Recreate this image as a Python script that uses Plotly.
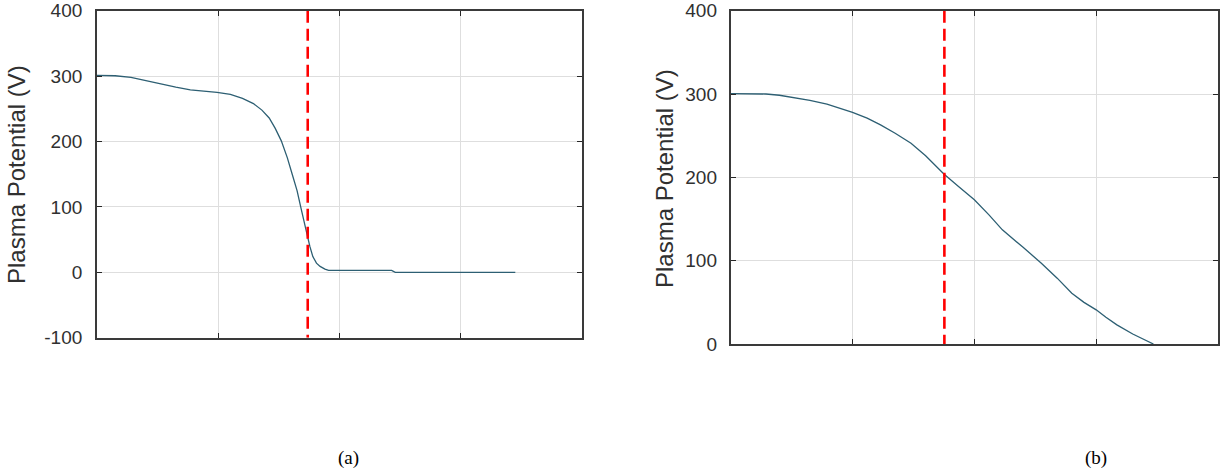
import plotly.graph_objects as go

# Panel (a) data (x in grid units, 0..4; y in volts)
xa = [0, 0.15, 0.28, 0.4, 0.51, 0.65, 0.77, 0.9, 0.99, 1.1, 1.2, 1.29, 1.36, 1.42, 1.47, 1.52, 1.57,
      1.61, 1.65, 1.68, 1.71, 1.73, 1.755, 1.78, 1.81, 1.84, 1.88, 1.91, 2.43, 2.46, 3.45]
ya = [301, 300.5, 298, 293, 288, 283, 279, 277, 275, 272, 266, 258, 248, 236, 220, 201, 175,
      150, 125, 100, 78, 60, 40, 24, 14, 9, 5, 3, 3, 0, 0]
vline_a = 1.738

# Panel (b) data
xb = [0, 0.15, 0.29, 0.4, 0.51, 0.65, 0.79, 0.9, 1.0, 1.12, 1.23, 1.35, 1.48, 1.6, 1.75, 1.87, 2.0,
      2.12, 2.23, 2.4, 2.55, 2.68, 2.8, 2.9, 3.0, 3.08, 3.17, 3.3, 3.47]
yb = [300.5, 300.5, 300, 298.5, 296, 292.5, 288, 283, 278, 271, 263, 253, 241, 226, 204, 189, 173,
      155, 137, 116, 97, 79, 61, 50, 41, 32, 23, 12, 0]
vline_b = 1.754

yticks_a = [-100, 0, 100, 200, 300, 400]
yticklabels_a = ["-100", "0", "100", "200", "300", "400"]
yticks_b = [0, 100, 200, 300, 400]
yticklabels_b = ["0", "100", "200", "300", "400"]
xticks = [0, 1, 2, 3, 4]
ytitle = "Plasma Potential (V)"
panel_labels = ["(a)", "(b)"]

W, H = 1221, 470
curve_color = "#2d5f73"

fig = go.Figure()
fig.add_trace(go.Scatter(x=xa, y=ya, mode="lines", line=dict(color=curve_color, width=1.3),
                         xaxis="x", yaxis="y", showlegend=False))
fig.add_trace(go.Scatter(x=[vline_a, vline_a], y=[yticks_a[-1], yticks_a[0]], mode="lines",
                         line=dict(color="#ff0000", width=2.6, dash="12px,6px"),
                         xaxis="x", yaxis="y", showlegend=False))
fig.add_trace(go.Scatter(x=xb, y=yb, mode="lines", line=dict(color=curve_color, width=1.3),
                         xaxis="x2", yaxis="y2", showlegend=False))
fig.add_trace(go.Scatter(x=[vline_b, vline_b], y=[yticks_b[-1], yticks_b[0]], mode="lines",
                         line=dict(color="#ff0000", width=2.6, dash="12px,6px"),
                         xaxis="x2", yaxis="y2", showlegend=False))

axcommon = dict(showline=True, linecolor="#3a3a3a", linewidth=1.8, mirror="allticks",
                ticks="inside", ticklen=5, tickcolor="#262626", tickwidth=1, showgrid=True,
                gridcolor="#dedede", gridwidth=1, zeroline=False, automargin=False)
font_tick = dict(family="Liberation Sans, Arial", size=19, color="#303030")

def px_x(p):
    return p / W

def px_y(p):
    return 1 - p / H

fig.update_layout(
    width=W, height=H, margin=dict(l=0, r=0, t=0, b=0),
    paper_bgcolor="white", plot_bgcolor="white",
    xaxis=dict(domain=[px_x(97), px_x(582)], range=[0, 4], tickvals=xticks, showticklabels=False,
               anchor="y", **axcommon),
    yaxis=dict(domain=[px_y(337.7), px_y(10.7)], range=[-100, 400], tickvals=yticks_a,
               ticktext=yticklabels_a, tickfont=font_tick, ticklabelstandoff=9, anchor="x", **axcommon),
    xaxis2=dict(domain=[px_x(730.7), px_x(1218)], range=[0, 4], tickvals=xticks, showticklabels=False,
                anchor="y2", **axcommon),
    yaxis2=dict(domain=[px_y(344), px_y(10.7)], range=[0, 400], tickvals=yticks_b,
                ticktext=yticklabels_b, tickfont=font_tick, ticklabelstandoff=8, anchor="x2", **axcommon),
    annotations=[
        dict(text=ytitle, x=px_x(16), y=px_y(175), xref="paper", yref="paper", showarrow=False,
             xanchor="center", yanchor="middle", textangle=-90,
             font=dict(family="Liberation Sans, Arial", size=24, color="#303030")),
        dict(text=ytitle, x=px_x(664), y=px_y(178), xref="paper", yref="paper", showarrow=False,
             xanchor="center", yanchor="middle", textangle=-90,
             font=dict(family="Liberation Sans, Arial", size=24, color="#303030")),
        dict(text=panel_labels[0], x=px_x(348), y=px_y(458), xref="paper", yref="paper", showarrow=False,
             xanchor="center", yanchor="middle",
             font=dict(family="Liberation Serif, Times New Roman", size=19, color="black")),
        dict(text=panel_labels[1], x=px_x(1096), y=px_y(458), xref="paper", yref="paper", showarrow=False,
             xanchor="center", yanchor="middle",
             font=dict(family="Liberation Serif, Times New Roman", size=19, color="black")),
    ],
)
fig.write_html("out.html", config={"displayModeBar": False},
               post_script="document.body.style.margin='0';")
